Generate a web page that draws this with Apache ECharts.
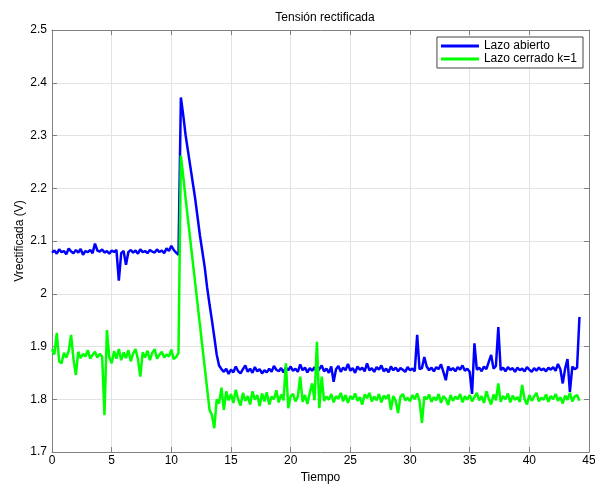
<!DOCTYPE html>
<html>
<head>
<meta charset="utf-8">
<title>Tensión rectificada</title>
<script src="https://cdn.jsdelivr.net/npm/echarts@6/dist/echarts.min.js"></script>
<style>
  html, body { margin: 0; padding: 0; background: #fff; }
  #chart { width: 595px; height: 485px; }
</style>
</head>
<body>
<div id="chart"></div>
<script>
// muestreo cada 0.2 s, empezando en t = 0
var sampleStep = 0.2;

var lazoAbierto = [
  2.078, 2.082, 2.076, 2.084, 2.079,
  2.081, 2.075, 2.086, 2.080, 2.077,
  2.083, 2.078, 2.085, 2.074, 2.081,
  2.079, 2.083, 2.077, 2.095, 2.082,
  2.080, 2.084, 2.078, 2.081, 2.076,
  2.082, 2.079, 2.083, 2.025, 2.077,
  2.081, 2.055, 2.079, 2.083, 2.078,
  2.082, 2.076, 2.084, 2.079, 2.081,
  2.077, 2.083, 2.080, 2.078, 2.084,
  2.079, 2.082, 2.077, 2.086, 2.081,
  2.091, 2.083, 2.078, 2.074, 2.372,
  2.338, 2.300, 2.270, 2.240, 2.210,
  2.180, 2.145, 2.110, 2.080, 2.050,
  2.012, 1.980, 1.950, 1.918, 1.885,
  1.864, 1.857, 1.852, 1.858, 1.848,
  1.856, 1.851, 1.862, 1.853, 1.849,
  1.857, 1.864, 1.852, 1.858, 1.850,
  1.861, 1.853, 1.857, 1.849, 1.855,
  1.851, 1.858, 1.852, 1.863, 1.856,
  1.853, 1.859, 1.851, 1.860, 1.855,
  1.862, 1.854, 1.858, 1.852, 1.866,
  1.855, 1.860, 1.851, 1.859, 1.854,
  1.861, 1.852, 1.857, 1.864, 1.853,
  1.858, 1.850, 1.862, 1.833, 1.857,
  1.863, 1.852, 1.860, 1.855, 1.867,
  1.854, 1.859, 1.850, 1.862, 1.856,
  1.860, 1.853, 1.868, 1.855, 1.859,
  1.852, 1.861, 1.856, 1.864, 1.853,
  1.858, 1.851, 1.862, 1.855, 1.860,
  1.853, 1.859, 1.856, 1.852, 1.861,
  1.855, 1.858, 1.853, 1.922, 1.857,
  1.859, 1.880, 1.862, 1.855, 1.860,
  1.853, 1.861, 1.857, 1.866, 1.852,
  1.836, 1.862, 1.855, 1.859, 1.853,
  1.861, 1.856, 1.864, 1.854, 1.858,
  1.852, 1.810, 1.906, 1.856, 1.860,
  1.853, 1.862, 1.857, 1.871, 1.884,
  1.858, 1.863, 1.937, 1.855, 1.860,
  1.853, 1.861, 1.856, 1.859, 1.852,
  1.860, 1.855, 1.858, 1.853, 1.861,
  1.856, 1.852, 1.859, 1.854, 1.860,
  1.855, 1.858, 1.853, 1.860, 1.856,
  1.861, 1.854, 1.867, 1.857, 1.830,
  1.858, 1.876, 1.814, 1.862, 1.857,
  1.860, 1.956
];

var lazoCerrado = [
  1.895, 1.885, 1.926, 1.872, 1.868,
  1.888, 1.879, 1.892, 1.922, 1.876,
  1.846, 1.890, 1.878, 1.886, 1.881,
  1.893, 1.877, 1.884, 1.890, 1.879,
  1.886, 1.881, 1.770, 1.931, 1.880,
  1.868, 1.891, 1.877, 1.895, 1.874,
  1.889, 1.878, 1.893, 1.872, 1.887,
  1.895, 1.876, 1.843, 1.889, 1.879,
  1.892, 1.874, 1.888, 1.895, 1.877,
  1.884, 1.890, 1.879, 1.885, 1.881,
  1.894, 1.876, 1.880, 1.888, 2.262,
  2.222, 2.180, 2.140, 2.100, 2.060,
  2.020, 1.980, 1.940, 1.900, 1.860,
  1.820, 1.780, 1.770, 1.745, 1.800,
  1.792, 1.822, 1.780, 1.815, 1.798,
  1.810, 1.793, 1.818, 1.800, 1.788,
  1.812, 1.797, 1.806, 1.790, 1.815,
  1.799, 1.808, 1.787, 1.811, 1.796,
  1.813, 1.790, 1.805, 1.800, 1.817,
  1.794, 1.809, 1.798, 1.868, 1.783,
  1.806, 1.810, 1.796, 1.804, 1.843,
  1.795, 1.808, 1.791, 1.812, 1.830,
  1.798, 1.909, 1.783, 1.843, 1.797,
  1.805, 1.799, 1.810, 1.794, 1.806,
  1.801, 1.812, 1.796, 1.808, 1.793,
  1.806, 1.800, 1.811, 1.797, 1.804,
  1.790, 1.809, 1.802, 1.812, 1.796,
  1.805, 1.798, 1.810, 1.794, 1.807,
  1.801, 1.809, 1.780, 1.806, 1.797,
  1.774, 1.805, 1.810, 1.798, 1.803,
  1.796, 1.808, 1.800, 1.811, 1.797,
  1.755, 1.805, 1.800, 1.809, 1.795,
  1.804, 1.798, 1.810, 1.793, 1.806,
  1.801, 1.789, 1.808, 1.797, 1.805,
  1.800, 1.810, 1.794, 1.806, 1.799,
  1.808, 1.796, 1.804, 1.812, 1.798,
  1.806, 1.793, 1.815, 1.801, 1.790,
  1.809, 1.798, 1.830, 1.795, 1.806,
  1.800, 1.811, 1.794, 1.807, 1.799,
  1.804, 1.795, 1.827, 1.800, 1.790,
  1.808, 1.797, 1.805, 1.812, 1.796,
  1.803, 1.799, 1.809, 1.795, 1.806,
  1.800, 1.810, 1.797, 1.804, 1.792,
  1.807, 1.799, 1.812, 1.796, 1.805,
  1.808, 1.797
];

var seriesNames = ['Lazo abierto', 'Lazo cerrado k=1'];
var seriesColors = ['#0000ff', '#00ff00'];

function toPairs(values) {
  return values.map(function (v, i) {
    return [+(i * sampleStep).toFixed(1), v];
  });
}

var font = 'Liberation Sans, Arial, sans-serif';
var axisGray = '#808080';
var gridGray = '#e3e3e3';

var chart = echarts.init(document.getElementById('chart'), null, { renderer: 'canvas' });

chart.setOption({
  animation: false,
  backgroundColor: '#fff',
  title: {
    text: 'Tensión rectificada',
    left: 320,
    textAlign: 'center',
    top: 7,
    textStyle: { fontFamily: font, fontSize: 12, fontWeight: 'normal', color: '#000' }
  },
  legend: {
    orient: 'vertical',
    right: 12,
    top: 37,
    padding: [3, 6, 3, 4],
    itemGap: 1,
    itemWidth: 38,
    itemHeight: 3,
    icon: 'rect',
    backgroundColor: '#fff',
    borderColor: '#444',
    borderWidth: 1,
    textStyle: { fontFamily: font, fontSize: 12, color: '#000' },
    data: seriesNames
  },
  grid: { left: 52, right: 6, top: 30, bottom: 33, outerBoundsMode: 'none' },
  xAxis: [{
    type: 'value',
    min: 0, max: 45, interval: 5,
    name: 'Tiempo',
    nameLocation: 'middle',
    nameGap: 20,
    nameMoveOverlap: false,
    nameTextStyle: { fontFamily: font, fontSize: 12, color: '#000' },
    axisLine: { onZero: false, lineStyle: { color: axisGray } },
    axisTick: { inside: true, length: 5, lineStyle: { color: axisGray } },
    axisLabel: { fontFamily: font, fontSize: 12, color: '#000', margin: 3 },
    splitLine: { show: true, lineStyle: { color: gridGray, width: 1 } }
  }, {
    type: 'value',
    position: 'top',
    min: 0, max: 45, interval: 5,
    axisLine: { onZero: false, lineStyle: { color: axisGray } },
    axisTick: { inside: true, length: 5, lineStyle: { color: axisGray } },
    axisLabel: { show: false },
    splitLine: { show: false }
  }],
  yAxis: [{
    type: 'value',
    min: 1.7, max: 2.5, interval: 0.1,
    name: 'Vrectificada (V)',
    nameLocation: 'middle',
    nameGap: 26,
    nameMoveOverlap: false,
    nameTextStyle: { fontFamily: font, fontSize: 12, color: '#000' },
    axisLine: { show: true, onZero: false, lineStyle: { color: axisGray } },
    axisTick: { show: true, inside: true, length: 5, lineStyle: { color: axisGray } },
    axisLabel: {
      fontFamily: font, fontSize: 12, color: '#000', margin: 5,
      formatter: function (v) { return String(+v.toFixed(1)); }
    },
    splitLine: { show: true, lineStyle: { color: gridGray, width: 1 } }
  }, {
    type: 'value',
    position: 'right',
    min: 1.7, max: 2.5, interval: 0.1,
    axisLine: { show: true, onZero: false, lineStyle: { color: axisGray } },
    axisTick: { show: true, inside: true, length: 5, lineStyle: { color: axisGray } },
    axisLabel: { show: false },
    splitLine: { show: false }
  }],
  series: [{
    name: seriesNames[0],
    type: 'line',
    showSymbol: false,
    color: seriesColors[0],
    lineStyle: { color: seriesColors[0], width: 2.5 },
    data: toPairs(lazoAbierto)
  }, {
    name: seriesNames[1],
    type: 'line',
    showSymbol: false,
    color: seriesColors[1],
    lineStyle: { color: seriesColors[1], width: 2.5 },
    data: toPairs(lazoCerrado)
  }]
});
</script>
</body>
</html>
